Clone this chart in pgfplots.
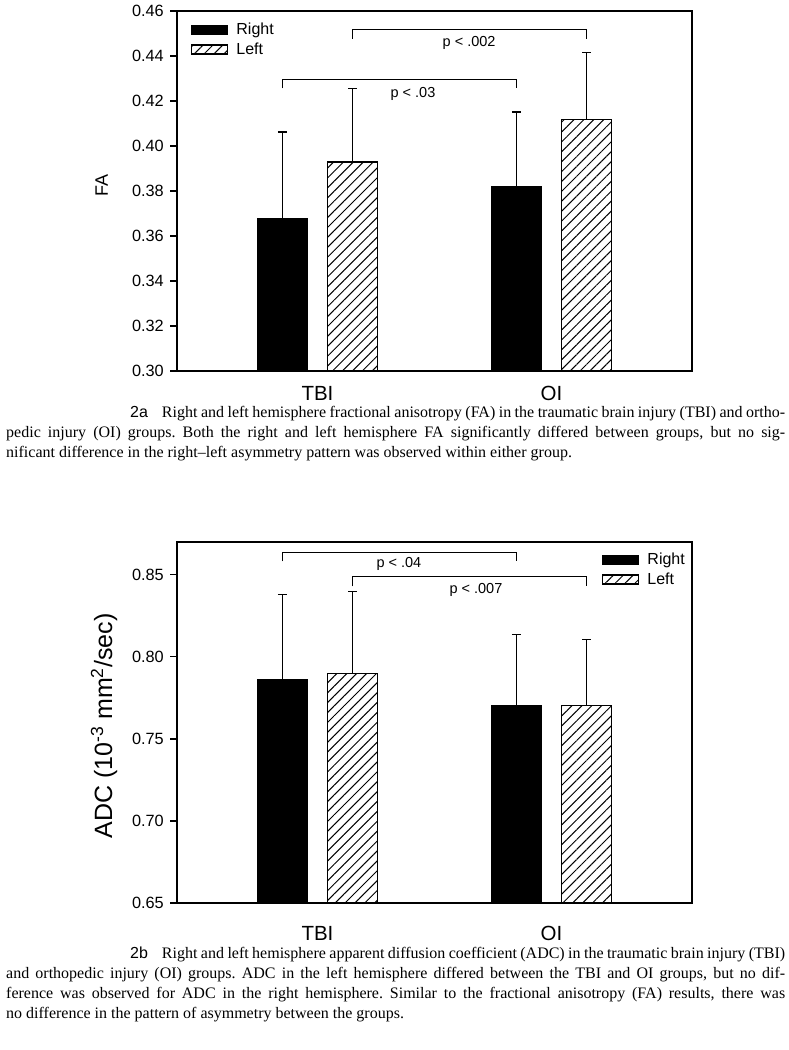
\documentclass[border=0pt]{standalone}
\usepackage{fontspec}
\setmainfont{Liberation Sans}
\newfontfamily\capfont{Liberation Serif}
\newfontfamily\arialf{Liberation Sans}
\usepackage{pgfplots}
\pgfplotsset{compat=1.18}
\usepackage{pgfplotstable}
\usetikzlibrary{patterns.meta}

\pgfplotstableread{
x y e
-0.15 0.3678 0.0384
0.85 0.3818 0.0333
}\faright
\pgfplotstableread{
x y e
0.15 0.3929 0.0327
1.15 0.4119 0.0295
}\faleft
\pgfplotstableread{
x y e
-0.15 0.7864 0.0518
0.85 0.7703 0.0435
}\adcright
\pgfplotstableread{
x y e
0.15 0.7901 0.0495
1.15 0.7703 0.0405
}\adcleft

\pgfplotsset{
  mybase/.style={
    scale only axis, width=515pt, xmin=-0.6, xmax=1.6,
    axis line style={line width=1.3pt, black},
    xtick={0,1}, xticklabels={TBI,OI}, x tick style={draw=none},
    ytick pos=left, tick align=outside, major tick length=7pt,
    y tick style={line width=1.2pt, black},
    yticklabel style={font=\fontsize{16.3}{19}\selectfont, anchor=east, inner sep=0pt, xshift=-6pt,
      /pgf/number format/fixed, /pgf/number format/fixed zerofill,
      /pgf/number format/precision=2, /pgf/number format/assume math mode=true},
    legend style={draw=none, fill=none, font=\fontsize{16}{19}\selectfont, inner sep=0pt,
      row sep=0pt, nodes={inner sep=1pt, text height=13.5pt, text depth=4pt}},
    legend cell align=left,
  },
  rbar/.style={ybar, bar shift=0pt, bar width=0.214, fill=black, draw=black, line width=1.2pt,
    legend image code/.code={\draw[##1] (0pt,-4.5pt) rectangle (36pt,4.5pt); \path (43pt,0pt);},
    error bars/.cd, y dir=plus, y explicit, error mark=|,
    error bar style={line width=1.2pt, black},
    error mark options={line width=1.2pt, black, mark size=4.5pt}},
  lbar/.style={ybar, bar shift=0pt, bar width=0.214, draw=black, line width=1.2pt,
    pattern={Lines[angle=45,distance=7pt,line width=1pt]},
    legend image code/.code={\draw[##1] (0pt,-4.5pt) rectangle (36pt,4.5pt); \path (43pt,0pt);},
    error bars/.cd, y dir=plus, y explicit, error mark=|,
    error bar style={line width=1.2pt, black},
    error mark options={line width=1.2pt, black, mark size=4.5pt}},
  brk/.style={black, line width=1.2pt, forget plot},
}

\begin{document}
\begin{tikzpicture}[x=1pt,y=1pt]
\path[use as bounding box] (0,0) rectangle (788,1050);

% ---------- Chart 2a ----------
\begin{axis}[mybase, at={(177pt,679pt)}, anchor=south west, height=360pt,
  ymin=0.30, ymax=0.46, ytick={0.30,0.32,0.34,0.36,0.38,0.40,0.42,0.44,0.46},
  xticklabel style={font=\fontsize{20.5}{24}\selectfont, anchor=base, inner sep=0pt, yshift=-23pt},
  ylabel={FA},
  ylabel style={font=\fontsize{18}{20}\selectfont, at={(axis description cs:-0.134,0.514)}, anchor=base},
  legend style={at={(axis description cs:0,1)}, anchor=north west, xshift=14pt, yshift=-9pt},
]
\addplot[rbar] table[x=x, y=y, y error=e] {\faright};
\addlegendentry{Right}
\addplot[lbar] table[x=x, y=y, y error=e] {\faleft};
\addlegendentry{Left}
\addplot[brk] coordinates {(-0.15,0.4256) (-0.15,0.4297) (0.85,0.4297) (0.85,0.4256)};
\addplot[brk] coordinates {(0.15,0.4477) (0.15,0.4517) (1.15,0.4517) (1.15,0.4477)};
\node[anchor=base, font=\fontsize{14.5}{17}\selectfont] at (axis cs:0.408,0.4214) {p < .03};
\node[anchor=base, font=\fontsize{14.5}{17}\selectfont] at (axis cs:0.648,0.4440) {p < .002};
\end{axis}

% ---------- Chart 2b ----------
\begin{axis}[mybase, at={(177pt,147pt)}, anchor=south west, height=361pt,
  ymin=0.65, ymax=0.87, ytick={0.65,0.70,0.75,0.80,0.85},
  xticklabel style={font=\fontsize{20.5}{24}\selectfont, anchor=base, inner sep=0pt, yshift=-30pt},
  ylabel={ADC (10\textsuperscript{-3} mm\textsuperscript{2}/sec)},
  ylabel style={font=\fontsize{25}{28}\selectfont, at={(axis description cs:-0.126,0.49)}, anchor=base},
  legend style={at={(axis description cs:1,1)}, anchor=north east, xshift=-6pt, yshift=-8pt},
]
\addplot[rbar] table[x=x, y=y, y error=e] {\adcright};
\addlegendentry{Right}
\addplot[lbar] table[x=x, y=y, y error=e] {\adcleft};
\addlegendentry{Left}
\addplot[brk] coordinates {(-0.15,0.8582) (-0.15,0.8636) (0.85,0.8636) (0.85,0.8582)};
\addplot[brk] coordinates {(0.15,0.8429) (0.15,0.8488) (1.15,0.8488) (1.15,0.8429)};
\node[anchor=base, font=\fontsize{14.5}{17}\selectfont] at (axis cs:0.348,0.8547) {p < .04};
\node[anchor=base, font=\fontsize{14.5}{17}\selectfont] at (axis cs:0.677,0.8388) {p < .007};
\end{axis}

% ---------- Captions ----------
\node[anchor=base west, inner sep=0pt] at (6,632) {\parbox[t]{779pt}{\capfont\fontsize{16}{20}\selectfont\frenchspacing\parindent=0pt
\makebox[779pt][s]{\hspace*{124pt}{\arialf 2a}\hspace*{14pt}Right and left hemisphere fractional anisotropy (FA) in the traumatic brain injury (TBI) and ortho-}\par
\makebox[779pt][s]{pedic injury (OI) groups. Both the right and left hemisphere FA significantly differed between groups, but no sig-}\par
\makebox[779pt][l]{nificant difference in the right–left asymmetry pattern was observed within either group.}\par}};

\node[anchor=base west, inner sep=0pt] at (6,91) {\parbox[t]{779pt}{\capfont\fontsize{16}{19.7}\selectfont\frenchspacing\parindent=0pt
\makebox[779pt][s]{\hspace*{124pt}{\arialf 2b}\hspace*{14pt}Right and left hemisphere apparent diffusion coefficient (ADC) in the traumatic brain injury (TBI)}\par
\makebox[779pt][s]{and orthopedic injury (OI) groups. ADC in the left hemisphere differed between the TBI and OI groups, but no dif-}\par
\makebox[779pt][s]{ference was observed for ADC in the right hemisphere. Similar to the fractional anisotropy (FA) results, there was}\par
\makebox[779pt][l]{no difference in the pattern of asymmetry between the groups.}\par}};
\end{tikzpicture}
\end{document}
